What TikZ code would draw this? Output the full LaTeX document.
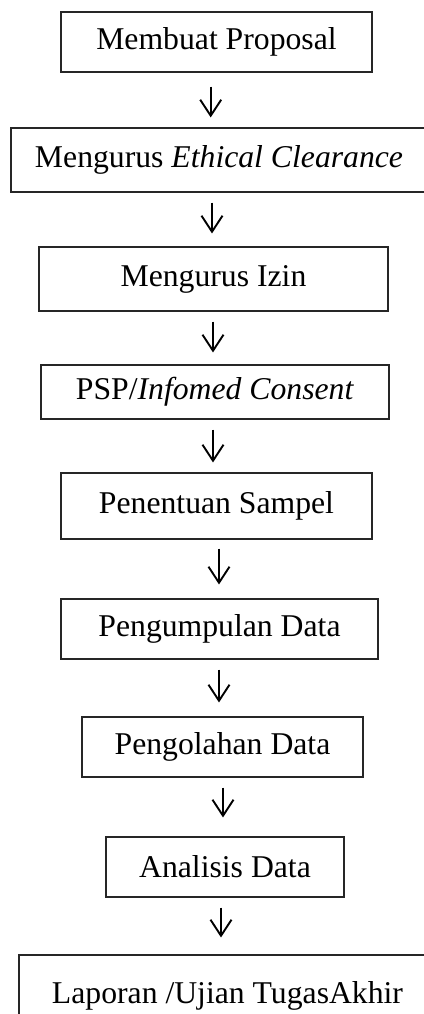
\documentclass[tikz,border=0pt]{standalone}
\usepackage{fontspec}
\setmainfont{Liberation Serif}
\usepackage{tikz}
\usetikzlibrary{arrows.meta,positioning,calc}

\begin{document}
\begin{tikzpicture}[%
    x=1pt, y=1pt,
    stepbox/.style={rectangle, draw=black!85, line width=1.1pt, inner sep=0pt,
      font=\fontsize{31.7pt}{38pt}\selectfont},
    flowarrow/.style={-{Straight Barb[length=16pt, width=21pt]}, line width=1.9pt,
      shorten <=10pt, shorten >=13pt},
  ]
  \useasboundingbox (0,0) rectangle (423,-1014);

  % --- boxes ---
  \node[stepbox, minimum width=311pt, minimum height=60pt] (prop) at (216.5,-42) {Membuat Proposal};
  \node[stepbox, minimum width=416pt, minimum height=64pt] (etik) at (219,-160) {Mengurus \textit{Ethical Clearance}};
  \node[stepbox, minimum width=349pt, minimum height=64pt] (izin) at (213.5,-279) {Mengurus Izin};
  \node[stepbox, minimum width=348pt, minimum height=54pt] (psp) at (215,-392) {PSP/\textit{Infomed Consent}};
  \node[stepbox, minimum width=311pt, minimum height=66pt] (sampel) at (216.5,-506) {Penentuan Sampel};
  \node[stepbox, minimum width=317pt, minimum height=60pt] (kumpul) at (219.5,-629) {Pengumpulan Data};
  \node[stepbox, minimum width=281pt, minimum height=60pt] (olah) at (222.5,-747) {Pengolahan Data};
  \node[stepbox, minimum width=238pt, minimum height=60pt] (analisis) at (225,-867) {Analisis Data};
  \node[stepbox, minimum width=417pt, minimum height=82pt] (lapor) at (227.5,-996) {Laporan /Ujian TugasAkhir};

  % --- arrows ---
  \draw[flowarrow, shorten <=14pt, shorten >=10pt] (prop.south -| 210.7,0) -- (etik.north -| 210.7,0);
  \draw[flowarrow] (etik.south -| 212,0) -- (izin.north -| 212,0);
  \draw[flowarrow, shorten >=12pt] (izin.south -| 213,0) -- (psp.north -| 213,0);
  \draw[flowarrow, shorten >=10pt] (psp.south -| 213,0) -- (sampel.north -| 213,0);
  \draw[flowarrow, shorten <=9pt, shorten >=14pt] (sampel.south -| 219,0) -- (kumpul.north -| 219,0);
  \draw[flowarrow, shorten >=14pt] (kumpul.south -| 219,0) -- (olah.north -| 219,0);
  \draw[flowarrow, shorten >=19pt] (olah.south -| 223,0) -- (analisis.north -| 223,0);
  \draw[flowarrow, shorten >=17pt] (analisis.south -| 221,0) -- (lapor.north -| 221,0);
\end{tikzpicture}
\end{document}
